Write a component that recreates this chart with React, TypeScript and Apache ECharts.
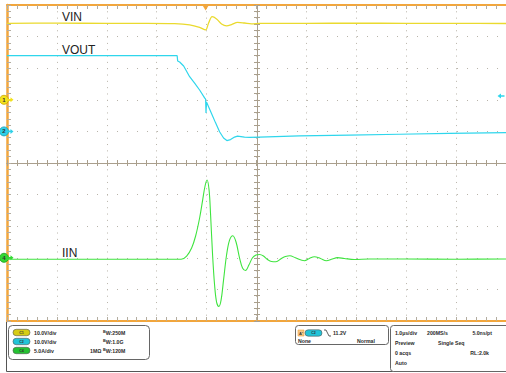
import React, { useEffect, useRef } from "react";
import * as echarts from "echarts";

// time in microseconds (1 µs/div), trigger at t = 0
const tVin = [-4, -3, -2, -1.2, -0.64, -0.34, -0.14, -0.02, 0.04, 0.11, 0.2, 0.3, 0.4, 0.5, 0.62, 0.76, 0.9, 1.06, 2, 3, 4, 5, 6];
const vin = [24.2, 24.25, 24.2, 24.2, 24.1, 23.7, 22.9, 22.1, 24.3, 26.3, 25.6, 24.0, 23.4, 23.8, 24.5, 24.3, 24.05, 24.2, 24.2, 24.25, 24.2, 24.2, 24.15];

const tVout = [-4, -2, -0.59, -0.58, -0.54, -0.46, -0.34, -0.24, -0.14, -0.04, -0.02, -0.012, -0.002, 0.094, 0.18, 0.26, 0.34, 0.406, 0.48, 0.56, 0.62, 0.76, 0.86, 1.06, 1.86, 2.86, 3.86, 4.86, 6];
const vout = [23.95, 23.95, 23.95, 22.3, 21.96, 20.7, 17.3, 15.3, 13.1, 10.6, 10.2, 5.8, 9.3, 5.8, 2.7, -0.1, -2.1, -2.9, -2.6, -1.8, -1.5, -1.8, -1.9, -1.8, -1.4, -1.15, -0.9, -0.65, -0.4];

const tIin = [-4, -2, -0.51, -0.4, -0.3, -0.22, -0.14, -0.08, -0.03, 0.01, 0.05, 0.08, 0.12, 0.16, 0.2, 0.246, 0.29, 0.34, 0.4, 0.46, 0.526, 0.59, 0.66, 0.72, 0.78, 0.85, 0.92, 0.99, 1.06, 1.14, 1.22, 1.3, 1.39, 1.5, 1.58, 1.67, 1.78, 1.96, 2.06, 2.16, 2.28, 2.4, 2.52, 2.62, 2.76, 2.96, 3.26, 4, 5, 6];
const iin = [-0.24, -0.24, -0.24, 0.28, 1.55, 3.45, 6.3, 9.1, 11.4, 12.3, 10.7, 6.8, 0.44, -4.3, -7.0, -7.7, -6.7, -3.5, 0.44, 2.8, 3.5, 2.5, 0, -1.6, -2.0, -1.1, 0, 0.44, 0.52, 0.28, -0.27, -0.59, -0.62, -0.11, 0.2, 0.33, 0, -0.46, -0.1, 0.17, -0.1, -0.46, -0.19, 0.02, -0.11, -0.27, -0.19, -0.2, -0.22, -0.2];

const trigLevel = 11.2;

const YEL = "#eada2e";
const CYAN = "#2fd6ec";
const GREEN = "#3fe43f";
const ORANGE = "#f2a63c";
const TICK = "#b3ad a1".replace(" ", "");
const DOT = "#b9b4aa";
const CROSS = "#a99f8d";

const FONT = '"Liberation Sans", Arial, sans-serif';

function marker(color: string, label: string, border: string) {
  return [
    {
      coord: [-4, 0],
      symbol: "circle",
      symbolSize: 9,
      symbolOffset: [-3, 0],
      itemStyle: { color, borderColor: border, borderWidth: 0.8 },
      label: { show: true, formatter: label, fontSize: 6, fontWeight: "bold", color: "#333", position: "inside", fontFamily: FONT },
    },
    {
      coord: [-4, 0],
      symbol: "path://M8,3 L4,0 L4,2 L0,2 L0,4 L4,4 L4,6 Z",
      symbolSize: [6, 5],
      symbolOffset: [3.5, 0],
      itemStyle: { color },
      label: { show: false },
    },
  ];
}

function crossX(gridIndex: number, position: string) {
  return {
    gridIndex, type: "value", min: -4, max: 6, interval: 1, position,
    axisLine: { onZero: false, lineStyle: { color: CROSS, width: 1 } },
    axisTick: { show: true, inside: true, length: 3, lineStyle: { color: CROSS } },
    minorTick: { show: true, splitNumber: 5, length: 3, lineStyle: { color: CROSS } },
    axisLabel: { show: false }, splitLine: { show: false },
  };
}
function crossY(gridIndex: number, position: string) {
  return {
    gridIndex, type: "value", min: 0, max: 10, interval: 1, position,
    axisLine: { onZero: false, lineStyle: { color: CROSS, width: 1 } },
    axisTick: { show: true, inside: true, length: 3, lineStyle: { color: CROSS } },
    minorTick: { show: true, splitNumber: 5, length: 3, lineStyle: { color: CROSS } },
    axisLabel: { show: false }, splitLine: { show: false },
  };
}
function hiddenAxis(gridIndex: number) {
  return { gridIndex, type: "value", min: 0, max: 1, show: false, axisLine: { onZero: false } };
}

function ptext(x: number, y: number, text: string, extra: any = {}) {
  return {
    type: "text", x, y, silent: true,
    style: { text, fill: "#2a2a2a", font: `bold 5.2px ${FONT}`, verticalAlign: "middle", align: "left", ...extra },
  };
}
function bwText(x: number, y: number, val: string) {
  return {
    type: "text", x, y, silent: true,
    style: {
      text: `{s|B}{n|W:${val}}`, verticalAlign: "middle", align: "left",
      rich: {
        s: { fontSize: 3.8, fontWeight: "bold", fontFamily: FONT, fill: "#2a2a2a", verticalAlign: "top" },
        n: { fontSize: 5.2, fontWeight: "bold", fontFamily: FONT, fill: "#2a2a2a", verticalAlign: "bottom" },
      },
    },
  };
}
function badge(x: number, y: number, color: string, label: string) {
  return [
    { type: "rect", silent: true, shape: { x, y: y - 3.2, width: 17, height: 6.4, r: 3.2 }, style: { fill: color, stroke: "#555", lineWidth: 0.6 } },
    { type: "text", silent: true, x: x + 8.5, y, style: { text: label, fill: "#333", font: `bold 3.6px ${FONT}`, align: "center", verticalAlign: "middle" } },
  ];
}

export default function App() {
  const ref = useRef<HTMLDivElement>(null);
  useEffect(() => {
    if (!ref.current) return;
    const chart = echarts.init(ref.current, undefined, { renderer: "svg" });
    const plot = { left: 7, top: 5, width: 500, height: 316 };
    const option: any = {
      animation: false,
      backgroundColor: "#ffffff",
      grid: [
        { ...plot },
        { left: 7, top: 5, width: 500, height: 158 },
        { left: 7, top: 163, width: 500, height: 158 },
        { left: 7, top: 5, width: 250, height: 316 },
        { left: 257, top: 5, width: 250, height: 316 },
      ],
      xAxis: [
        {
          gridIndex: 0, type: "value", min: -4, max: 6, interval: 1, position: "bottom",
          axisLine: { onZero: false, lineStyle: { color: ORANGE, width: 2 } },
          axisTick: { show: true, inside: true, length: 4, lineStyle: { color: TICK } },
          minorTick: { show: true, splitNumber: 5, length: 4, lineStyle: { color: TICK } },
          axisLabel: { show: false },
          splitLine: { show: true, lineStyle: { color: DOT, width: 1, type: [1, 5.32] } },
        },
        {
          gridIndex: 0, type: "value", min: -4, max: 6, interval: 1, position: "top",
          axisLine: { onZero: false, lineStyle: { color: ORANGE, width: 2 } },
          axisTick: { show: true, inside: true, length: 4, lineStyle: { color: TICK } },
          minorTick: { show: true, splitNumber: 5, length: 4, lineStyle: { color: TICK } },
          axisLabel: { show: false }, splitLine: { show: false },
        },
        crossX(1, "bottom"),
        crossX(2, "top"),
        hiddenAxis(3),
        hiddenAxis(4),
      ],
      yAxis: [
        {
          gridIndex: 0, type: "value", min: -70, max: 30, interval: 10, position: "left",
          axisLine: { onZero: false, lineStyle: { color: ORANGE, width: 2.5 } },
          axisTick: { show: true, inside: true, length: 4, lineStyle: { color: TICK } },
          minorTick: { show: true, splitNumber: 5, length: 4, lineStyle: { color: TICK } },
          axisLabel: { show: false },
          splitLine: { show: true, lineStyle: { color: DOT, width: 1, type: [1, 9] } },
        },
        { gridIndex: 0, type: "value", min: -60, max: 40, interval: 10, show: false, axisLine: { onZero: false } },
        { gridIndex: 0, type: "value", min: -10, max: 40, interval: 5, show: false, axisLine: { onZero: false } },
        hiddenAxis(1),
        hiddenAxis(2),
        crossY(3, "right"),
        crossY(4, "left"),
      ],
      series: [
        {
          type: "line", name: "VIN", xAxisIndex: 0, yAxisIndex: 0,
          data: tVin.map((t, i) => [t, vin[i]]),
          symbol: "none", smooth: 0.3, lineStyle: { color: YEL, width: 1.3 }, z: 3,
          markPoint: {
            silent: true,
            data: [
              ...marker("#f3e21c", "1", "#c8a400"),
              {
                coord: [0, 30], symbol: "triangle", symbolRotate: 180, symbolSize: [6, 5], symbolOffset: [-1, 3],
                itemStyle: { color: ORANGE }, label: { show: false },
              },
            ],
          },
        },
        {
          type: "line", name: "VOUT", xAxisIndex: 0, yAxisIndex: 1,
          data: tVout.map((t, i) => [t, vout[i]]),
          symbol: "none", lineStyle: { color: CYAN, width: 1.2 }, z: 4,
          markPoint: {
            silent: true,
            data: [
              ...marker("#2fd0e8", "2", "#1a9bb0"),
              {
                coord: [6, trigLevel], symbol: "path://M0,3 L4,0 L4,2 L8,2 L8,4 L4,4 L4,6 Z",
                symbolSize: [7, 5], symbolOffset: [-5, 0], itemStyle: { color: CYAN }, label: { show: false },
              },
            ],
          },
        },
        {
          type: "line", name: "IIN", xAxisIndex: 0, yAxisIndex: 2,
          data: tIin.map((t, i) => [t, iin[i]]),
          symbol: "none", smooth: 0.35, lineStyle: { color: GREEN, width: 1.1 }, z: 5,
          markPoint: { silent: true, data: [...marker("#33d833", "4", "#1f9a1f")] },
        },
      ],
      graphic: [
        { type: "text", x: 62, y: 16.5, silent: true, style: { text: "VIN", fill: "#222", font: `12px ${FONT}`, verticalAlign: "middle" } },
        { type: "text", x: 62, y: 49.5, silent: true, style: { text: "VOUT", fill: "#222", font: `12px ${FONT}`, verticalAlign: "middle" } },
        { type: "text", x: 62, y: 253, silent: true, style: { text: "IIN", fill: "#222", font: `12px ${FONT}`, verticalAlign: "middle" } },
        // bottom info frame
        { type: "polyline", silent: true, shape: { points: [[6.5, 322], [6.5, 371.5], [506, 371.5]] }, style: { stroke: "#555", lineWidth: 1, fill: "none" } },
        { type: "rect", silent: true, shape: { x: 8.5, y: 325.5, width: 141, height: 34, r: 4 }, style: { fill: "#fff", stroke: "#666", lineWidth: 1 } },
        ...badge(13, 332.5, "#d6cc14", "C1"),
        ...badge(13, 341.5, "#22c4d8", "C2"),
        ...badge(13, 350.5, "#24c232", "C4"),
        ptext(34, 332.5, "10.0V/div"),
        ptext(34, 341.5, "10.0V/div"),
        ptext(34, 350.5, "5.0A/div"),
        bwText(103, 332.5, "250M"),
        bwText(103, 341.5, "1.0G"),
        ptext(90, 350.5, "1MΩ"),
        bwText(103, 350.5, "120M"),
        { type: "rect", silent: true, shape: { x: 295.5, y: 325.5, width: 93, height: 19, r: 3 }, style: { fill: "#fff", stroke: "#666", lineWidth: 1 } },
        { type: "rect", silent: true, shape: { x: 298, y: 330, width: 6, height: 6 }, style: { fill: "#f5c98a", stroke: ORANGE, lineWidth: 0.6 } },
        { type: "text", silent: true, x: 301, y: 333, style: { text: "A'", fill: "#333", font: `bold 4px ${FONT}`, align: "center", verticalAlign: "middle" } },
        ...badge(305, 333, "#22c4d8", "C2"),
        { type: "polyline", silent: true, shape: { points: [[324, 330], [326, 330], [329, 336], [331, 336]] }, style: { stroke: "#333", lineWidth: 0.8, fill: "none" } },
        ptext(333, 333, "11.2V"),
        ptext(298, 340.5, "None"),
        ptext(357, 340.5, "Normal"),
        { type: "rect", silent: true, shape: { x: 390.5, y: 325.5, width: 130, height: 46, r: 3 }, style: { fill: "#fff", stroke: "#666", lineWidth: 1 } },
        ptext(395, 333, "1.0µs/div"),
        ptext(427, 333, "200MS/s"),
        ptext(492, 333, "5.0ns/pt", { align: "right" }),
        ptext(395, 342.5, "Preview"),
        ptext(438, 342.5, "Single Seq"),
        ptext(395, 352.5, "0 acqs"),
        ptext(489, 352.5, "RL:2.0k", { align: "right" }),
        ptext(395, 363, "Auto"),
      ],
    };
    chart.setOption(option);
    return () => chart.dispose();
  }, []);
  return (
    <div
      ref={ref}
      style={{ position: "fixed", left: 0, top: 0, width: 506, height: 373, background: "#fff" }}
    />
  );
}
